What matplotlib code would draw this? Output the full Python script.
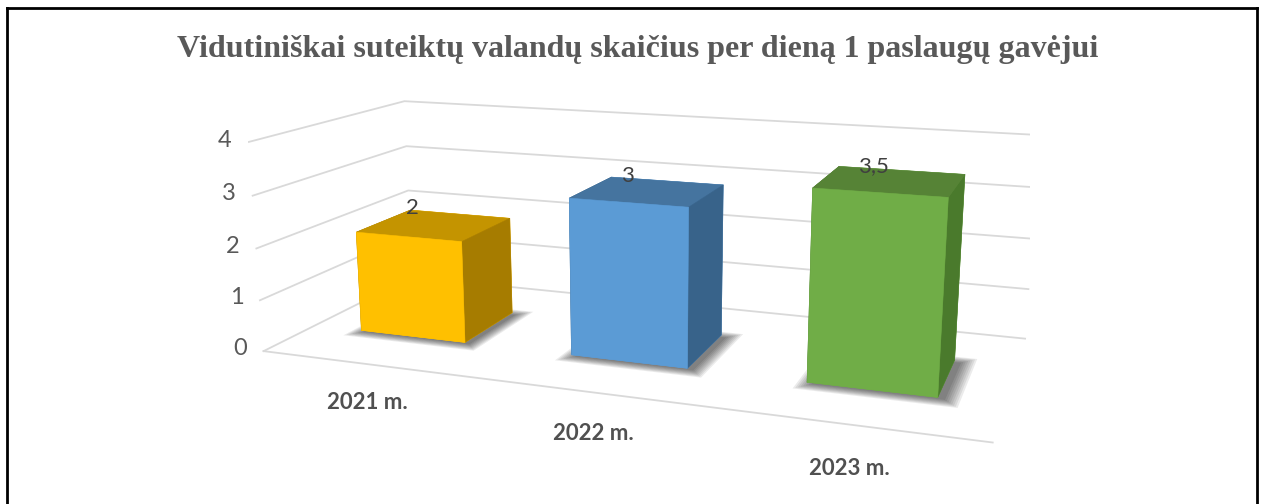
import numpy as np
import matplotlib
matplotlib.use("Agg")
import matplotlib.pyplot as plt
from mpl_toolkits.mplot3d import proj3d
from mpl_toolkits.mplot3d.art3d import Poly3DCollection

plt.rcParams["font.family"] = ["Lato", "DejaVu Sans"]

title = "Vidutiniškai suteiktų valandų skaičius per dieną 1 paslaugų gavėjui"
categories = ["2021 m.", "2022 m.", "2023 m."]
values = [2, 3, 3.5]
value_labels = ["2", "3", "3,5"]
z_ticks = [0, 1, 2, 3, 4]

# front, top, side colour for each bar
front_colors = ["#FFC000", "#5B9BD5", "#70AD47"]
top_colors = ["#C49400", "#45749F", "#568336"]
side_colors = ["#A67C00", "#38638A", "#4A7A2C"]

W, H = 1263, 504
fig = plt.figure(figsize=(W / 100, H / 100), dpi=100)
ax = fig.add_axes([0.19668, -0.27934, 0.61873, 1.55052], projection="3d",
                  computed_zorder=False)
ax.set_proj_type("persp", focal_length=0.327)
ax.view_init(elev=13.84, azim=-70.24)
ax.set_box_aspect((3.369, 1.415, 1))
xlim = (-0.486, 2.50)
ax.set_xlim(*xlim)
ax.set_ylim(0, 1)
ax.set_zlim(0, 4)
ax.set_xticks([])
ax.set_yticks([])
ax.set_zticks([])
ax.set_axis_off()

bar_w = 0.507
y0, depth = 0.312, 0.374
grid = "#d9d9d9"


def label3d(x, y, z, s, **kw):
    # put a flat label at the projected position of a 3d point
    x2, y2, _ = proj3d.proj_transform(x, y, z, ax.get_proj())
    ax.text2D(x2, y2, s, transform=ax.transData, **kw)


# walls: gridlines on the left and back wall, plus the floor front edge
for z in z_ticks:
    ax.plot([xlim[0], xlim[0], xlim[1]], [0, 1, 1], [z, z, z], color=grid,
            lw=1.3, zorder=1)
    label3d(xlim[0] - 0.115, 0, z, str(z), ha="center", va="center",
            fontsize=17, color="#595959")
ax.plot([xlim[0], xlim[1]], [0, 0], [0, 0], color=grid, lw=1.3, zorder=1)

# soft shadows on the floor
for i in range(len(values)):
    x0 = i - bar_w / 2
    for k in range(8):
        e = 0.008 * k
        xs = [x0 + 0.02 - e, x0 + bar_w + 0.03 + e, x0 + bar_w + 0.03 + e, x0 + 0.02 - e]
        ys = [y0 - 0.015 - e, y0 - 0.015 - e, y0 + depth - 0.02 + e, y0 + depth - 0.02 + e]
        poly = Poly3DCollection([list(zip(xs, ys, [0] * 4))], facecolor="#000000",
                                edgecolor="none", alpha=0.08, zorder=2)
        ax.add_collection3d(poly)

# bars: faces are ordered -z, +z, -y, +y, -x, +x
for i, (v, fc, tc, sc) in enumerate(zip(values, front_colors, top_colors, side_colors)):
    faces = [fc, tc, fc, fc, sc, sc]
    ax.bar3d(i - bar_w / 2, y0, 0, bar_w, depth, v, color=faces, edgecolor=faces,
             linewidth=0.4, shade=False, zorder=3 + i)

for i, (v, lab) in enumerate(zip(values, value_labels)):
    label3d(i - 0.24 + 0.063 * i, y0 + depth, v + 0.05, lab, ha="center",
            va="center", fontsize=16, color="#404040", zorder=10)

for i, cat in enumerate(categories):
    label3d(i, 0, -0.76, cat, ha="center", va="center", fontsize=16,
            fontweight="bold", color="#505050")

fig.text(0.505, 1 - 49 / H, title, ha="center", va="center",
         family=["Liberation Serif"], fontweight="bold", fontsize=23, color="#595959")

# chart frame
fig.add_artist(plt.Line2D([7 / W, 7 / W], [0, 1 - 8 / H], color="black", lw=2))
fig.add_artist(plt.Line2D([7 / W, 1257 / W], [1 - 8 / H, 1 - 8 / H], color="black", lw=2))
fig.add_artist(plt.Line2D([1257 / W, 1257 / W], [0, 1 - 8 / H], color="black", lw=2))

fig.savefig("out.png", dpi=100)
